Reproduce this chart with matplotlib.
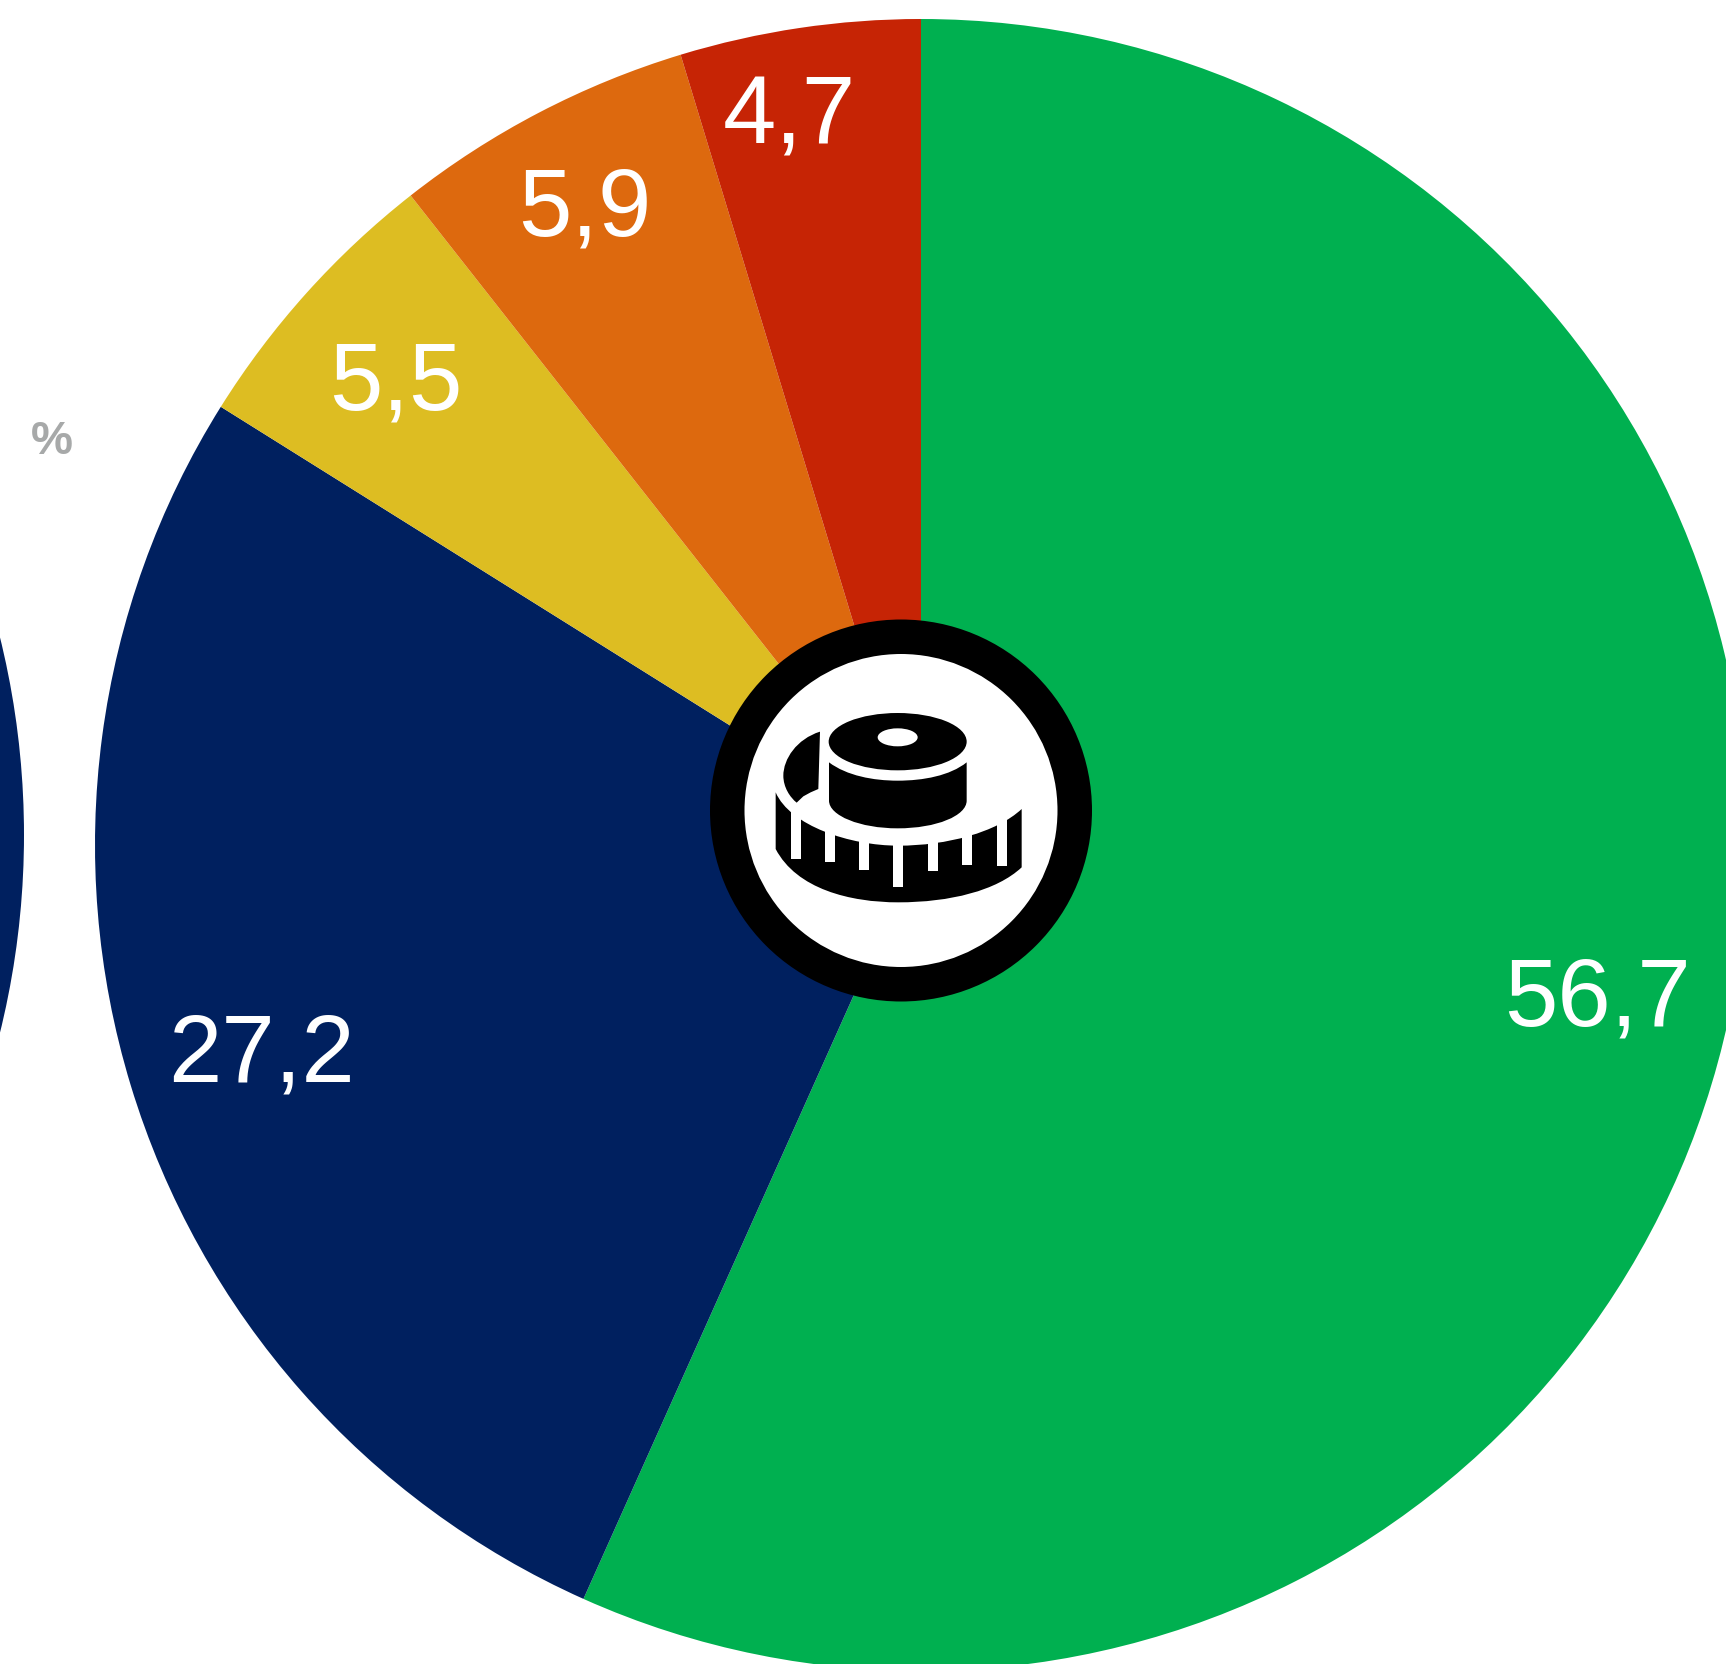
import matplotlib
matplotlib.use('Agg')
import matplotlib.pyplot as plt
from matplotlib.patches import Circle, Ellipse, PathPatch, Rectangle
from matplotlib.path import Path

W, H = 1726, 1665

values = [56.7, 27.2, 5.5, 5.9, 4.7]
colors = ['#00B050', '#00205F', '#DDBD22', '#DD690E', '#C62405']
label_x = [1597, 261, 396, 585, 789]
label_y = [1026, 1082, 409, 236, 144]

left_values = [100]
left_colors = ['#00205F']

GRAY = '#A7A9A9'
BLACK = '#000000'

plt.rcParams['font.family'] = ['Liberation Sans', 'DejaVu Sans']

fig = plt.figure(figsize=(W / 100, H / 100), dpi=100)
ax = fig.add_axes([0, 0, 1, 1])

# main pie and the edge of the neighbouring one
ax.pie(values, colors=colors, startangle=90, counterclock=False,
       center=(921, H - 846), radius=826)
ax.pie(left_values, colors=left_colors, startangle=90, counterclock=False,
       center=(-802, H - 836), radius=826)

ax.set_xlim(0, W)
ax.set_ylim(0, H)
ax.set_aspect('equal')
ax.axis('off')

for v, x, y in zip(values, label_x, label_y):
    ax.text(x, H - y, f'{v:.1f}'.replace('.', ','), color='white', fontsize=69,
            ha='center', va='baseline')

ax.text(52, H - 454, '%', color=GRAY, fontsize=34, fontweight='bold',
        ha='center', va='baseline')

# badge in the middle
ax.add_patch(Circle((901, H - 811.5), 191, fc=BLACK, ec='none', zorder=5))
ax.add_patch(Circle((901, H - 811.5), 156.5, fc='white', ec='none', zorder=6))


# icon was measured on a 3x crop starting at (690, 600)
def pt(zx, zy):
    return 690 + zx / 3, H - (600 + zy / 3)


def shape(verts, codes, color=BLACK, z=7):
    path = Path([pt(*v) for v in verts], codes)
    ax.add_patch(PathPatch(path, fc=color, ec='none', zorder=z))


def oval(cx, cy, rx, ry, color=BLACK, z=7):
    ax.add_patch(Ellipse(pt(cx, cy), 2 * rx / 3, 2 * ry / 3, fc=color, ec='none', zorder=z))


M, L, C, Z = Path.MOVETO, Path.LINETO, Path.CURVE4, Path.CLOSEPOLY

# tape band
shape([(257, 580), (300, 680), (480, 740), (625, 740), (770, 740), (920, 700), (995, 630),
       (995, 805), (920, 875), (780, 910), (625, 910), (480, 910), (320, 870), (257, 750),
       (257, 580)],
      [M, C, C, C, C, C, C, L, C, C, C, C, C, C, Z])

# tick marks cut out of the band
tick_left = [303, 405, 508, 610, 715, 817, 920]
tick_top = [620, 680, 710, 720, 710, 700, 660]
tick_bottom = [780, 790, 812, 865, 815, 797, 800]
for tl, tt, tb in zip(tick_left, tick_top, tick_bottom):
    x0, y0 = pt(tl, tb)
    ax.add_patch(Rectangle((x0, y0), 10, (tb - tt) / 3, fc='white', ec='none', zorder=8))

# loose end behind the roll
shape([(390, 398), (320, 420), (280, 480), (280, 530), (280, 565), (300, 595), (320, 611),
       (340, 592), (362, 580), (385, 570), (390, 398)],
      [M, C, C, C, C, C, C, L, L, L, Z])

# roll side
shape([(417, 490), (470, 530), (550, 545), (623, 545), (700, 545), (780, 530), (830, 490),
       (830, 605), (830, 650), (740, 688), (623, 688), (510, 688), (417, 650), (417, 605),
       (417, 490)],
      [M, C, C, C, C, C, C, L, C, C, C, C, C, C, Z])

# roll top with the hole
oval(623, 428, 207, 86)
oval(623, 415, 60, 27, color='white', z=8)

fig.savefig('out.png', dpi=100)
